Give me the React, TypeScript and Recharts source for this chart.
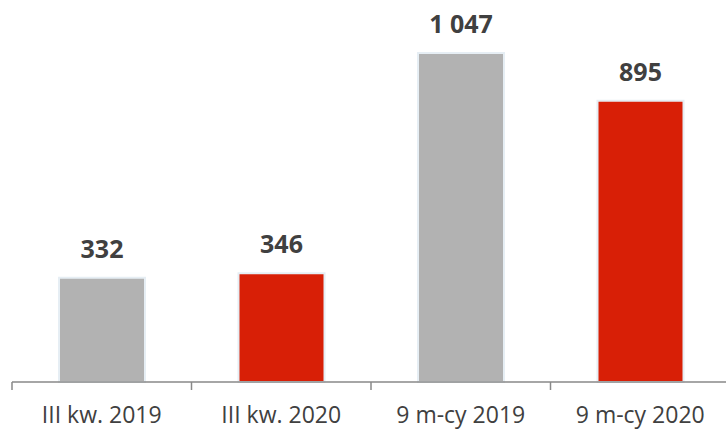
import React from 'react';
import { BarChart, Bar, XAxis, YAxis, Cell, LabelList } from 'recharts';

const categories = ['III kw. 2019', 'III kw. 2020', '9 m-cy 2019', '9 m-cy 2020'];
const values = [332, 346, 1047, 895];
const barColors = ['#b2b2b2', '#d81f06', '#b2b2b2', '#d81f06'];

const data = categories.map((name, i) => ({ name, value: values[i] }));

const formatValue = (v: number) => String(v).replace(/\B(?=(\d{3})+(?!\d))/g, ' ');

const ValueLabel = (props: any) => {
  const { x, y, width, value } = props;
  return (
    <text
      x={x + width / 2}
      y={y - 20}
      textAnchor="middle"
      fill="#404040"
      fontSize={25}
      fontWeight="bold"
      fontFamily="'Open Sans', sans-serif"
    >
      {formatValue(value)}
    </text>
  );
};

// tick mark sits on the left edge of each category band, label in the middle
const CategoryTick = (props: any) => {
  const { x, y, payload } = props;
  const half = payload && payload.offset ? payload.offset : 0;
  return (
    <g>
      <line x1={x - half} x2={x - half} y1={y} y2={y + 8} stroke="#898989" strokeWidth={1.5} />
      <text
        x={x}
        y={y + 41}
        textAnchor="middle"
        fill="#404040"
        fontSize={23}
        fontFamily="'Open Sans', sans-serif"
      >
        {payload.value}
      </text>
    </g>
  );
};

export default function App() {
  return (
    <div
      style={{
        position: 'absolute',
        left: 0,
        top: 0,
        width: 726,
        height: 429,
        overflow: 'hidden',
        background: '#fff',
      }}
    >
      <BarChart
        width={730}
        height={429}
        data={data}
        margin={{ top: 53, right: 0, bottom: 0, left: 12 }}
      >
        <XAxis
          dataKey="name"
          height={47}
          tickSize={0}
          tickMargin={0}
          tickLine={false}
          stroke="#898989"
          strokeWidth={1.5}
          tick={<CategoryTick />}
          interval={0}
        />
        <YAxis hide domain={[0, 1047]} />
        <Bar
          dataKey="value"
          barSize={86}
          stroke="#e6eef4"
          strokeWidth={2}
          isAnimationActive={false}
        >
          {data.map((d, i) => (
            <Cell key={d.name} fill={barColors[i]} />
          ))}
          <LabelList dataKey="value" content={ValueLabel} />
        </Bar>
      </BarChart>
    </div>
  );
}
